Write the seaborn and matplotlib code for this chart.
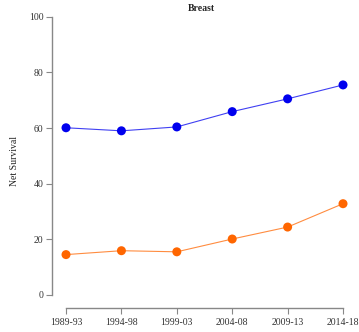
import matplotlib
matplotlib.use("Agg")
import matplotlib.pyplot as plt
import seaborn as sns
import pandas as pd

periods = ["1989-93", "1994-98", "1999-03", "2004-08", "2009-13", "2014-18"]
series_a = [60.1, 59.0, 60.4, 65.9, 70.5, 75.5]
series_b = [14.5, 15.9, 15.5, 20.1, 24.4, 32.8]
series_names = ["A", "B"]
colors = {"A": "#0000ee", "B": "#ff6600"}

df = pd.DataFrame({
    "period": periods * 2,
    "value": series_a + series_b,
    "series": [series_names[0]] * len(periods) + [series_names[1]] * len(periods),
})
df["x"] = df["period"].map({p: i for i, p in enumerate(periods)})

sns.set_style("white")
plt.rcParams["font.family"] = ["Liberation Serif", "DejaVu Serif"]

fig = plt.figure(figsize=(3.59, 3.32), dpi=100)
W, H = 359, 332
left, right, top, bottom = 52, 350, 14, 308
ax = fig.add_axes([left / W, (H - bottom) / H, (right - left) / W, (bottom - top) / H])

sns.lineplot(data=df, x="x", y="value", hue="series", palette=colors,
             linewidth=0.8, alpha=0.75, legend=False, ax=ax)
sns.scatterplot(data=df, x="x", y="value", hue="series", palette=colors,
                s=42, edgecolor="none", legend=False, ax=ax, zorder=3)

ax.set_xlim(-0.253, 5.126)
ax.set_ylim(-4.7, 101)
ax.set_xticks(range(len(periods)))
ax.set_xticklabels(periods)
ax.set_yticks([0, 20, 40, 60, 80, 100])

for s in ["top", "right"]:
    ax.spines[s].set_visible(False)
ax.spines["left"].set_bounds(0, 100)
ax.spines["bottom"].set_bounds(0, 5)
for s in ["left", "bottom"]:
    ax.spines[s].set_color("#888888")
    ax.spines[s].set_linewidth(1.0)

ax.tick_params(axis="both", bottom=True, left=True, direction="out", length=4,
               width=0.8, color="#888888", labelsize=7, labelcolor="#333333", pad=2)
ax.tick_params(axis="x", pad=3)

ax.set_xlabel("")
ax.set_ylabel("Net Survival", fontsize=7, color="#222222", labelpad=7)
ax.set_title("Breast", fontsize=7, fontweight="bold", color="#222222", pad=2)

fig.savefig("out.png", dpi=100)
